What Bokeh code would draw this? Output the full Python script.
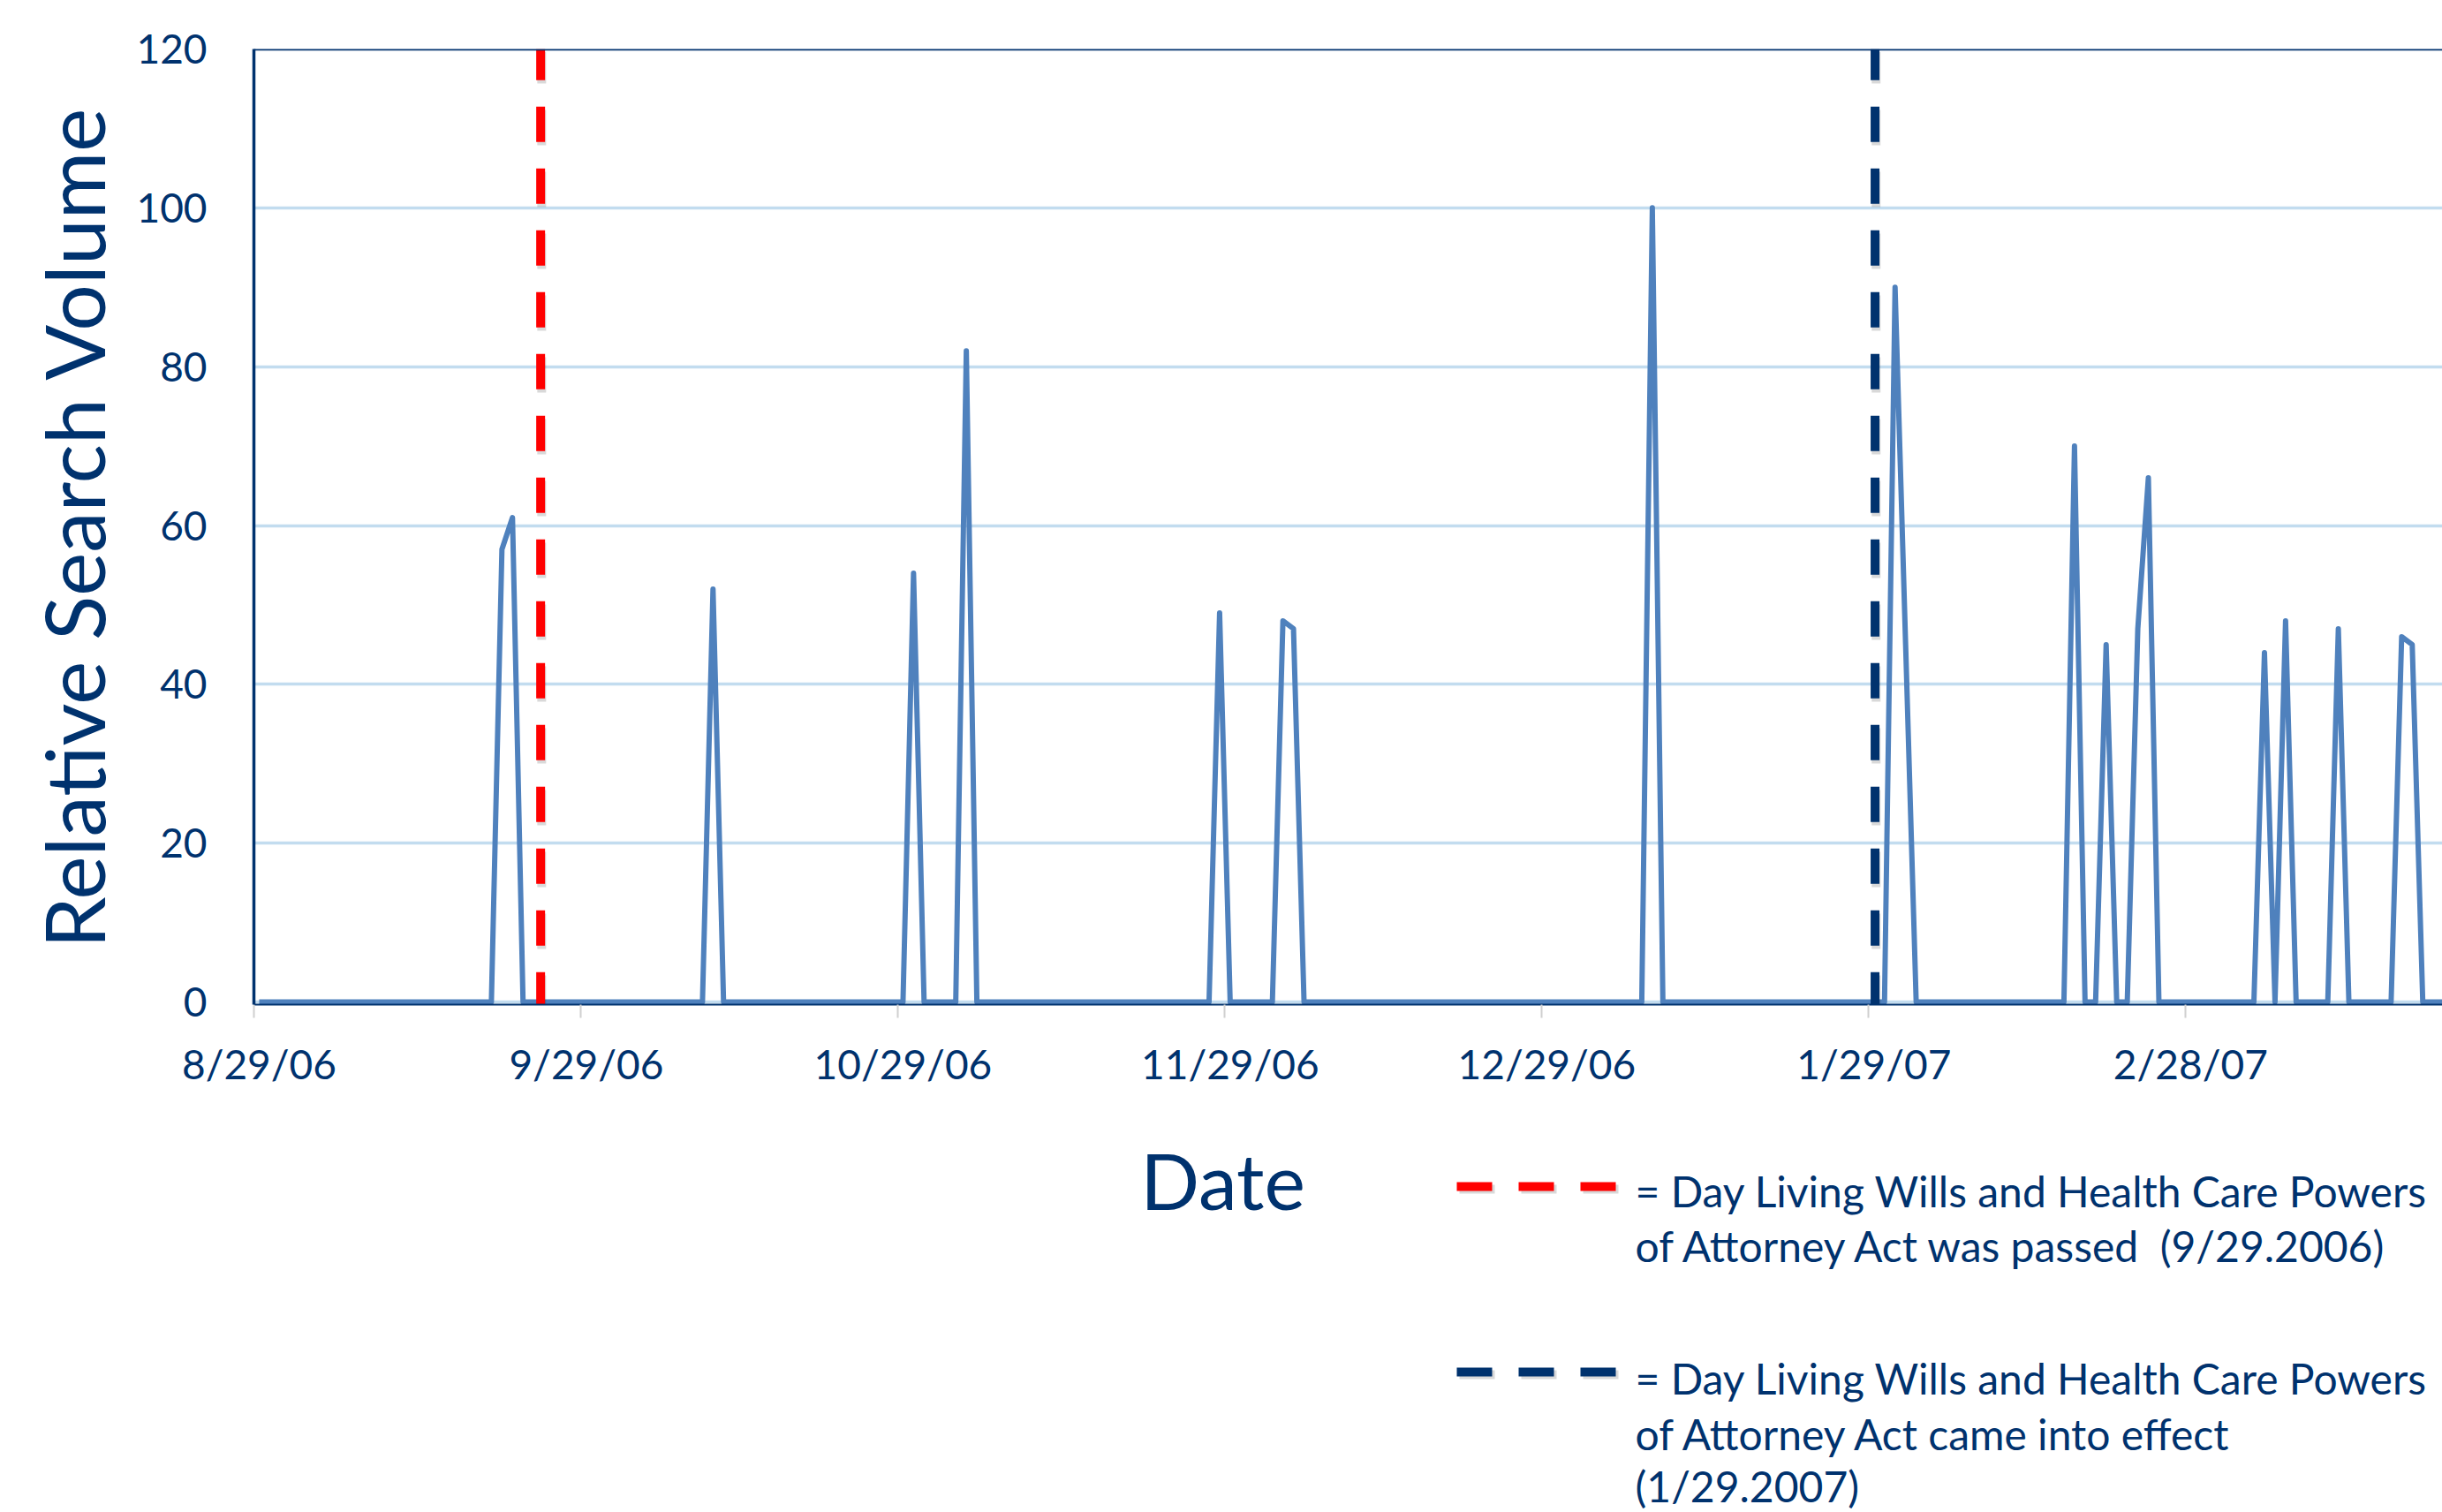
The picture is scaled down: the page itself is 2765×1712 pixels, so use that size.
import pandas as pd
from bokeh.plotting import figure
from bokeh.models import Range1d, FixedTicker, Span
from bokeh.layouts import column
from bokeh.embed import file_html
from bokeh.resources import INLINE
from bokeh.core.properties import value

# ---------------- data ----------------
start_date = "2006-08-29"
end_date = "2007-03-25"
spike_dates = ["2006-09-21", "2006-09-22", "2006-10-11", "2006-10-30", "2006-11-04",
               "2006-11-28", "2006-12-04", "2006-12-05", "2007-01-08", "2007-01-31",
               "2007-02-01", "2007-02-17", "2007-02-20", "2007-02-23", "2007-02-24",
               "2007-03-07", "2007-03-09", "2007-03-14", "2007-03-20", "2007-03-21"]
spike_values = [57, 61, 52, 54, 82,
                49, 48, 47, 100, 90,
                45, 70, 45, 47, 66,
                44, 48, 47, 46, 45]
tick_dates = ["2006-08-29", "2006-09-29", "2006-10-29", "2006-11-29",
              "2006-12-29", "2007-01-29", "2007-02-28"]
tick_labels = ["8/29/06", "9/29/06", "10/29/06", "11/29/06",
               "12/29/06", "1/29/07", "2/28/07"]
y_ticks = [0, 20, 40, 60, 80, 100, 120]
event_dates = ["2006-09-24 16:00", "2007-01-29 02:30"]
event_colors = ["#FF0000", "#00326E"]
legend_text = [
    ["= Day Living Wills and Health Care Powers",
     "of Attorney Act was passed \u00a0(9/29.2006)"],
    ["= Day Living Wills and Health Care Powers",
     "of Attorney Act came into effect",
     "(1/29.2007)"],
]

# ---------------- derived series ----------------
t0 = pd.Timestamp(start_date)
days = pd.date_range(start_date, end_date, freq="D")
series = pd.Series(0.0, index=days)
series[pd.to_datetime(spike_dates)] = spike_values
xs = [(d - t0).days for d in days]
ys = list(series.values)
tick_x = [(pd.Timestamp(d) - t0).days for d in tick_dates]
event_x = [(pd.Timestamp(d) - t0) / pd.Timedelta(days=1) for d in event_dates]

NAVY = "#00326E"
FONT = value("Lato")
W = 2765
H1 = 1260
H2 = 1712 - H1
LEFT = 287
PX_PER_DAY = 11.95
frame_w = W - LEFT

p = figure(width=W, height=H1, output_backend="svg", toolbar_location=None,
           x_range=Range1d(-0.5, -0.5 + frame_w / PX_PER_DAY),
           y_range=Range1d(-0.33, 120),
           min_border_left=LEFT, min_border_right=0, min_border_top=55,
           min_border_bottom=H1 - 1137)
p.outline_line_color = None
p.background_fill_color = "white"
p.border_fill_color = "white"

p.xgrid.grid_line_color = None
p.ygrid.ticker = FixedTicker(ticks=y_ticks)
p.ygrid.grid_line_color = "#C2DCEF"
p.ygrid.grid_line_width = 3.5

xa = p.xaxis[0]
xa.ticker = FixedTicker(ticks=tick_x, minor_ticks=[t - 0.5 for t in tick_x])
xa.major_label_overrides = {t: l for t, l in zip(tick_x, tick_labels)}
xa.axis_line_color = NAVY
xa.axis_line_width = 2
xa.major_tick_line_color = None
xa.major_tick_out = 0
xa.major_tick_in = 0
xa.minor_tick_line_color = "#D0D0D0"
xa.minor_tick_line_width = 2
xa.minor_tick_out = 15
xa.minor_tick_in = 0
xa.major_label_standoff = 24
xa.major_label_text_font = "Lato"
xa.major_label_text_font_size = "46px"
xa.major_label_text_color = NAVY

ya = p.yaxis[0]
ya.ticker = FixedTicker(ticks=y_ticks)
ya.axis_line_color = NAVY
ya.axis_line_width = 3.5
ya.major_tick_line_color = None
ya.major_tick_out = 0
ya.major_tick_in = 0
ya.minor_tick_line_color = None
ya.major_label_standoff = 53
ya.major_label_text_font = "Lato"
ya.major_label_text_font_size = "46px"
ya.major_label_text_color = NAVY
ya.axis_label = "Relative Search Volume"
ya.axis_label_text_font = "Lato"
ya.axis_label_text_font_size = "93px"
ya.axis_label_text_font_style = "normal"
ya.axis_label_text_color = NAVY
ya.axis_label_standoff = 12

p.add_layout(Span(location=120, dimension="width", line_color=NAVY, line_width=3.5))

p.line(xs, ys, line_color="#4F81BD", line_width=6, line_join="round")

for ex, col in zip(event_x, event_colors):
    p.line([ex + 0.1, ex + 0.1], [-1.1, 119.6], line_color="black", line_alpha=0.15,
           line_width=10, line_dash="40 30")
    p.line([ex, ex], [-0.7, 120], line_color=col, line_width=10, line_dash="40 30")

# ---------------- lower band: axis title + legend ----------------
# the column aligns this frame with the plot frame above (left border = LEFT)
q = figure(width=W, height=H2, output_backend="svg", toolbar_location=None,
           x_range=Range1d(LEFT, W), y_range=Range1d(0, H2),
           x_axis_location=None, y_axis_location=None,
           min_border=0, min_border_left=LEFT)
q.outline_line_color = None
q.grid.visible = False

def yb(screen_y):
    return 1712 - screen_y

q.text(x=[1384], y=[yb(1335)], text=["Date"], text_font=FONT, text_font_size="88px",
       text_color=NAVY, text_align="center", text_baseline="alphabetic")

dash_y = [yb(1343), yb(1553)]
text_y = [[yb(1348), yb(1410)], [yb(1560), yb(1623), yb(1682)]]
for dy, col, lines, tys in zip(dash_y, event_colors, legend_text, text_y):
    q.line([1652, 1832], [dy - 3, dy - 3], line_color="black", line_alpha=0.15,
           line_width=10, line_dash="40 30")
    q.line([1649, 1829], [dy, dy], line_color=col, line_width=10, line_dash="40 30")
    q.text(x=[1851] * len(lines), y=tys, text=lines, text_font=FONT,
           text_font_size="48px", text_color=NAVY, text_align="left",
           text_baseline="alphabetic")

layout = column(p, q, spacing=0)
open("out.html", "w").write(file_html(layout, INLINE))
